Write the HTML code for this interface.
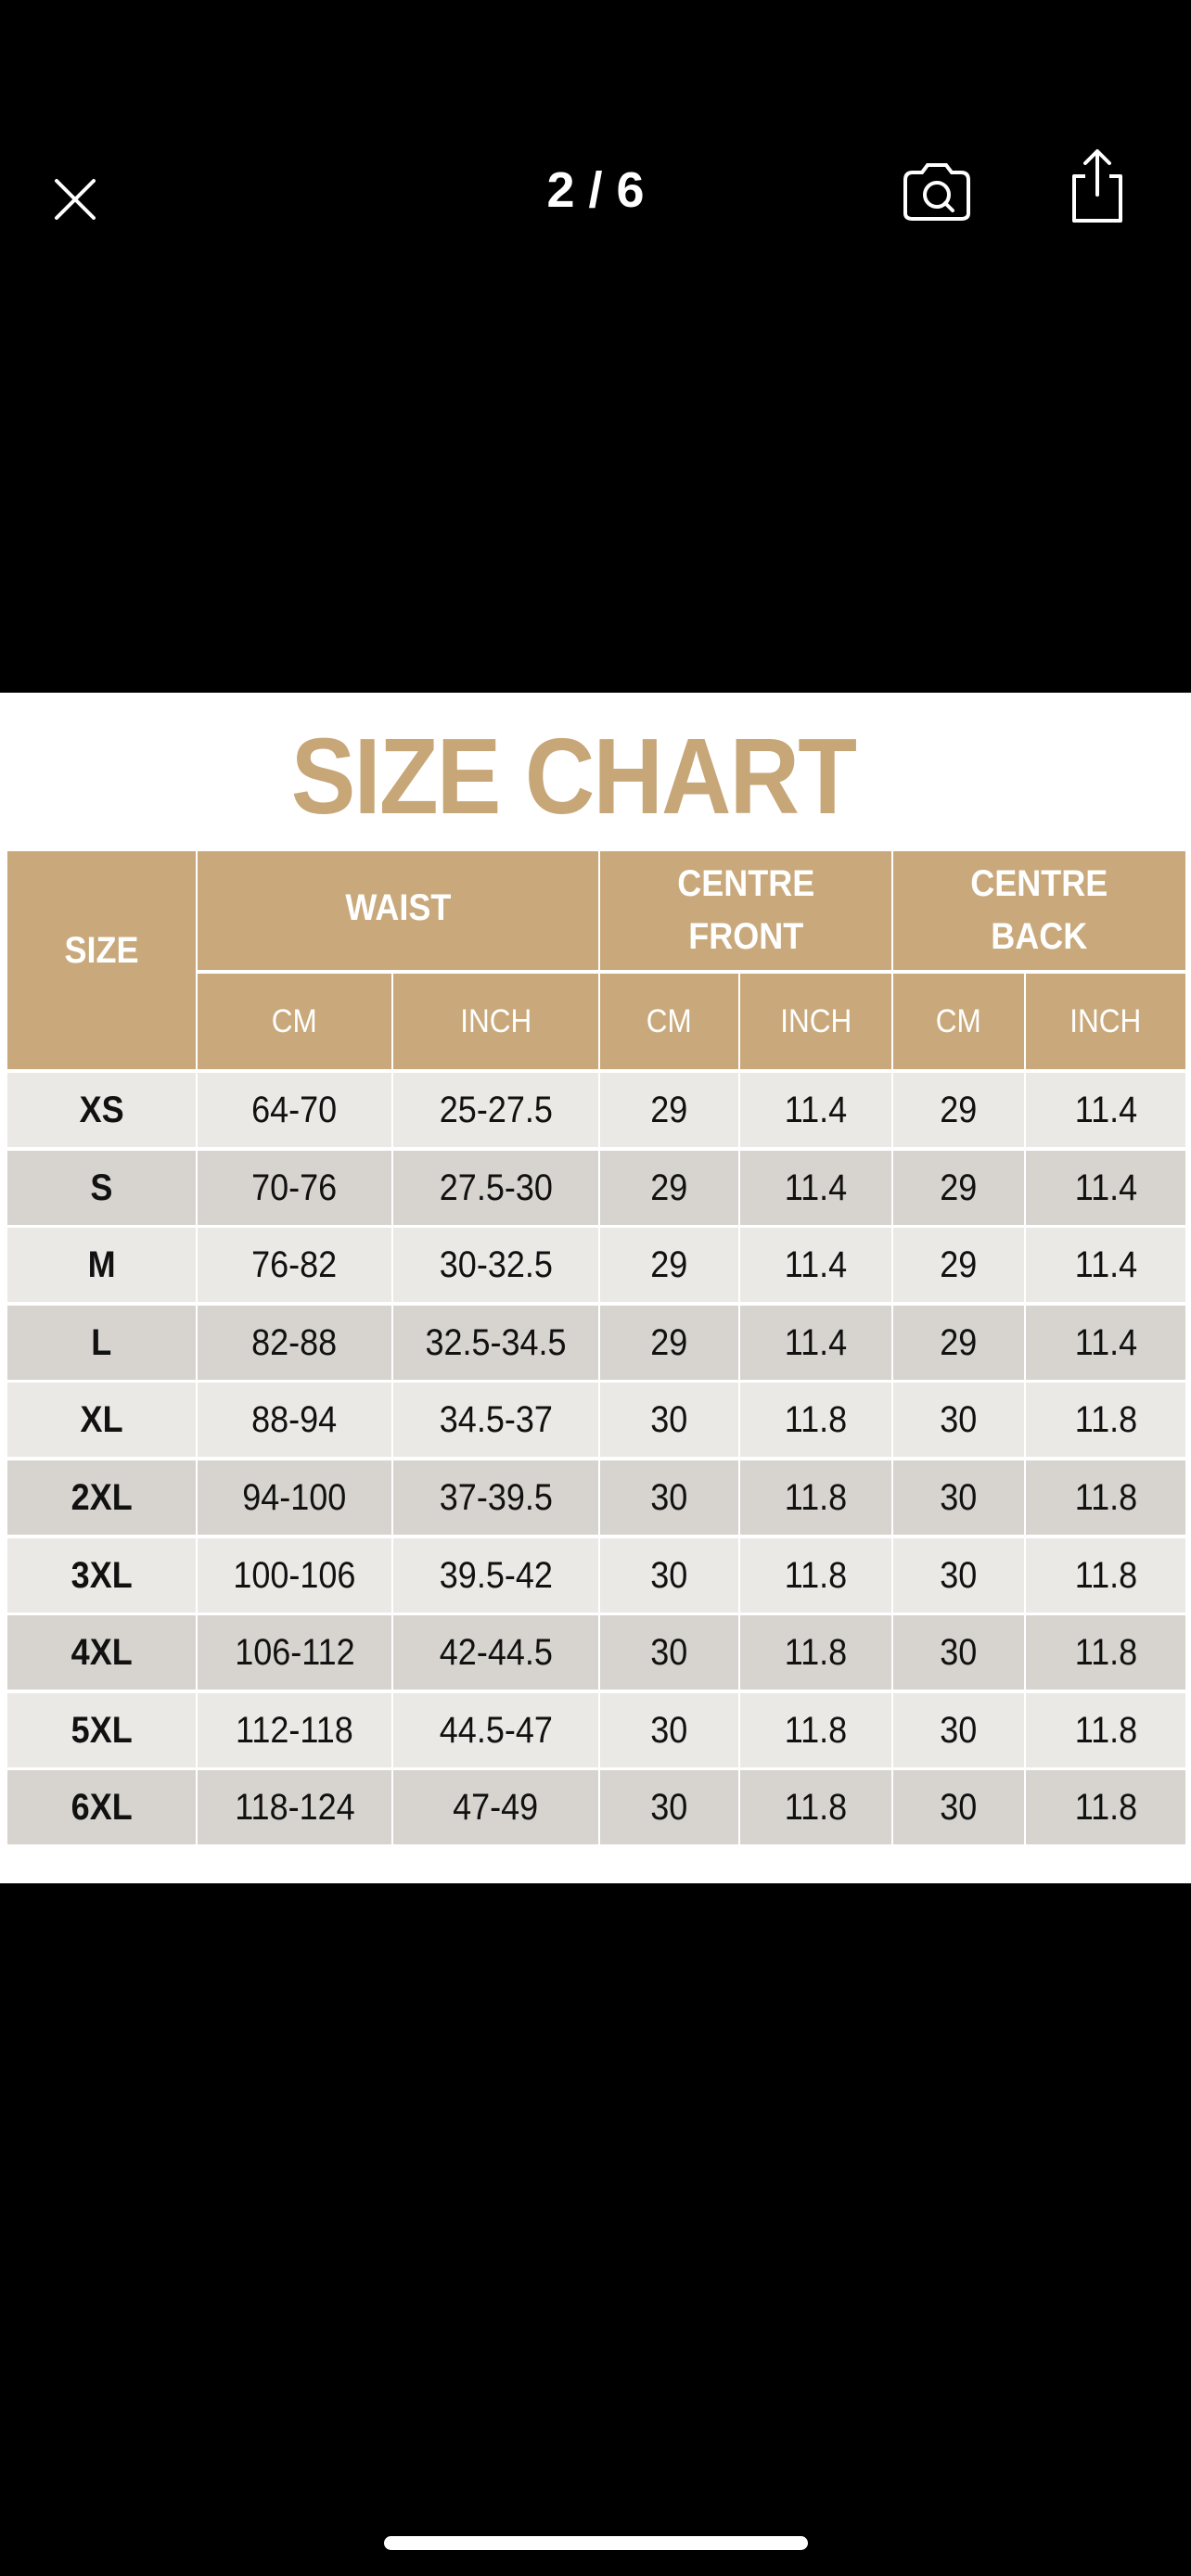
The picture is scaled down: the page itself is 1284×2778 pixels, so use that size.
<!DOCTYPE html>
<html><head><style>
body{margin:0;width:1284px;height:2778px;background:#000;position:relative;overflow:hidden;font-family:"Liberation Sans",sans-serif}
.a{position:absolute}
.c{position:absolute;display:flex;align-items:center;justify-content:center;text-align:center}
.c span{display:inline-block;transform:scaleX(0.9)}
.h{background:#c9a97b;color:#fff;font-weight:bold;font-size:40px;line-height:57px}
.s{background:#c9a97b;color:#fff;font-size:35px}
.l{background:#ebe9e6;color:#111;font-size:40px}
.d{background:#d7d4cf;color:#111;font-size:40px}
.b{font-weight:bold}
</style></head><body>
<svg class="a" style="left:58px;top:192px" width="46" height="46"><path d="M3 3L43 43M43 3L3 43" stroke="#fff" stroke-width="4" stroke-linecap="round"/></svg>
<div class="a" style="left:542px;top:174px;width:200px;text-align:center;color:#fff;font-size:54px;font-weight:bold">2 / 6</div>
<svg class="a" style="left:970px;top:172px" width="80" height="70"><path d="M6 22 Q6 14 14 14 H24 L30 6 H50 L56 14 H66 Q74 14 74 22 V58 Q74 64 66 64 H14 Q6 64 6 58 Z" fill="none" stroke="#fff" stroke-width="4"/><circle cx="40" cy="38" r="13" fill="none" stroke="#fff" stroke-width="4"/><path d="M49 47L57 55" stroke="#fff" stroke-width="4" stroke-linecap="round"/></svg>
<svg class="a" style="left:1148px;top:158px" width="70" height="86"><path d="M22 32 H10 V80 H60 V32 H48" fill="none" stroke="#fff" stroke-width="4" stroke-linejoin="round"/><path d="M35 52 V6 M22 18 L35 5 L48 18" fill="none" stroke="#fff" stroke-width="4" stroke-linecap="round" stroke-linejoin="round"/></svg>
<div class="a" style="left:0;top:747px;width:1284px;height:1284px;background:#fff"></div>
<div class="a" style="left:0;top:770px;width:1284px;text-align:center;"><span style="display:inline-block;margin-left:-48px;color:#c7a677;font-weight:bold;font-size:116px;letter-spacing:-2px;transform:scaleX(0.9)">SIZE CHART</span></div>
<div class="c h" style="left:8px;top:918px;width:203px;height:235px"><span style="margin-top:-20px">SIZE</span></div>
<div class="c h" style="left:213px;top:918px;width:432px;height:128px"><span style="margin-top:-6px">WAIST</span></div>
<div class="c h" style="left:647px;top:918px;width:314px;height:128px"><span>CENTRE<br>FRONT</span></div>
<div class="c h" style="left:963px;top:918px;width:315px;height:128px"><span>CENTRE<br>BACK</span></div>
<div class="c s" style="left:213px;top:1050px;width:209px;height:103px"><span>CM</span></div>
<div class="c s" style="left:424px;top:1050px;width:221px;height:103px"><span>INCH</span></div>
<div class="c s" style="left:647px;top:1050px;width:149px;height:103px"><span>CM</span></div>
<div class="c s" style="left:798px;top:1050px;width:163px;height:103px"><span>INCH</span></div>
<div class="c s" style="left:963px;top:1050px;width:141px;height:103px"><span>CM</span></div>
<div class="c s" style="left:1106px;top:1050px;width:172px;height:103px"><span>INCH</span></div>
<div id="rows"></div>
<script>
var L=[8,213,424,647,798,963,1106],R=[211,422,645,796,961,1104,1278];
var data=[["XS","64-70","25-27.5","29","11.4","29","11.4"],["S","70-76","27.5-30","29","11.4","29","11.4"],["M","76-82","30-32.5","29","11.4","29","11.4"],["L","82-88","32.5-34.5","29","11.4","29","11.4"],["XL","88-94","34.5-37","30","11.8","30","11.8"],["2XL","94-100","37-39.5","30","11.8","30","11.8"],["3XL","100-106","39.5-42","30","11.8","30","11.8"],["4XL","106-112","42-44.5","30","11.8","30","11.8"],["5XL","112-118","44.5-47","30","11.8","30","11.8"],["6XL","118-124","47-49","30","11.8","30","11.8"]];
var h="";
for(var i=0;i<10;i++){var t=Math.round(1157+i*83.6);for(var j=0;j<7;j++){h+='<div class="c '+(i%2?'d':'l')+(j==0?' b':'')+'" style="left:'+L[j]+'px;top:'+t+'px;width:'+(R[j]-L[j])+'px;height:80px"><span>'+data[i][j]+'</span></div>';}}
document.getElementById("rows").innerHTML=h;
</script>
<div class="a" style="left:414px;top:2735px;width:457px;height:15px;border-radius:8px;background:#fff"></div>
</body></html>
